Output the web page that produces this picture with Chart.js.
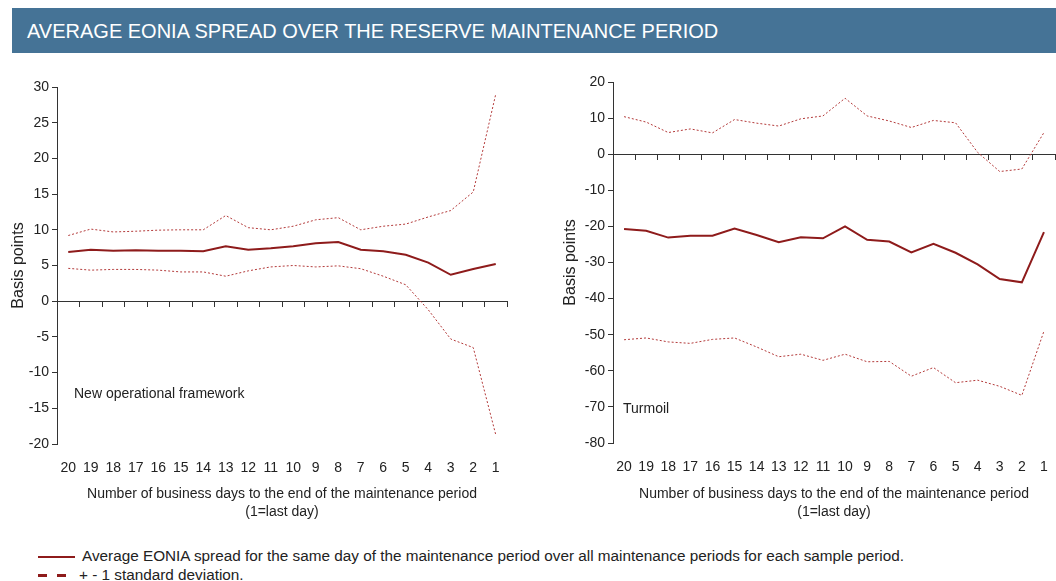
<!DOCTYPE html>
<html>
<head>
<meta charset="utf-8">
<script src="https://cdn.jsdelivr.net/npm/chart.js@4.4.1/dist/chart.umd.min.js"></script>
<style>
  body { margin: 0; width: 1056px; height: 581px; background: #fff; position: relative; overflow: hidden; font-family: "Liberation Sans", Arial, sans-serif; }
  #titre { position: absolute; left: 12px; top: 8px; width: 1044px; height: 45px; background: #457396; color: #fff; font-size: 20px; line-height: 46px; text-indent: 15px; }
  .boite { position: absolute; top: 0; height: 530px; }
  #gauche { left: 0; width: 530px; }
  #droite { left: 540px; width: 516px; }
  .legende { position: absolute; left: 38px; font-size: 15.3px; color: #222; white-space: nowrap; }
  .legende .trait { display: inline-block; width: 37px; height: 0; vertical-align: middle; margin-right: 7px; }
  .legende .tiret { display: inline-block; width: 9px; height: 0; border-top: 3px solid #8e1b1b; vertical-align: middle; margin-right: 10px; }
</style>
</head>
<body>
<div id="titre">AVERAGE EONIA SPREAD OVER THE RESERVE MAINTENANCE PERIOD</div>
<div class="boite" id="gauche"><canvas id="chartGauche"></canvas></div>
<div class="boite" id="droite"><canvas id="chartDroite"></canvas></div>
<div class="legende" style="top:547px"><span class="trait" style="border-top:2px solid #8e1b1b"></span>Average EONIA spread for the same day of the maintenance period over all maintenance periods for each sample period.</div>
<div class="legende" style="top:566px"><span class="tiret"></span><span class="tiret" style="margin-right:13px"></span>+ - 1 standard deviation.</div>
<script>
// jours ouvrés avant la fin de la période de réserve
const jours = ['20','19','18','17','16','15','14','13','12','11','10','9','8','7','6','5','4','3','2','1'];

// nouveau cadre opérationnel
const nofMoyenne = [6.9, 7.2, 7.05, 7.15, 7.05, 7.05, 7.0, 7.7, 7.2, 7.4, 7.7, 8.1, 8.3, 7.2, 7.0, 6.5, 5.4, 3.7, 4.5, 5.2];
const nofHaut    = [9.2, 10.1, 9.7, 9.8, 9.95, 10.0, 10.0, 12.0, 10.3, 10.0, 10.5, 11.4, 11.7, 10.0, 10.5, 10.8, 11.8, 12.7, 15.3, 29.0];
const nofBas     = [4.6, 4.35, 4.45, 4.45, 4.35, 4.1, 4.1, 3.5, 4.25, 4.8, 5.0, 4.8, 4.95, 4.55, 3.5, 2.3, -1.2, -5.3, -6.5, -18.7];

// turbulences
const turMoyenne = [-20.7, -21.2, -23.1, -22.6, -22.6, -20.6, -22.4, -24.4, -23.0, -23.3, -20.0, -23.7, -24.2, -27.2, -24.8, -27.3, -30.5, -34.6, -35.5, -21.6];
const turHaut    = [10.4, 8.9, 6.0, 7.0, 5.9, 9.6, 8.6, 7.8, 9.8, 10.6, 15.5, 10.6, 9.2, 7.4, 9.35, 8.7, 0.5, -4.8, -4.1, 6.0];
const turBas     = [-51.4, -50.9, -52.0, -52.4, -51.3, -50.9, -53.4, -56.1, -55.4, -57.1, -55.4, -57.5, -57.4, -61.5, -59.1, -63.3, -62.6, -64.3, -66.8, -49.0];

const rouge = '#8e1b1b';
const rougeClair = '#b33a3a';
const police = { family: '"Liberation Sans", Arial, sans-serif', size: 14 };
const couleurTexte = '#222';

// texte dans la zone du graphique
const pluginTexte = {
    id: 'texteZone',
    afterDraw(chart, args, opts) {
        const ctx = chart.ctx;
        const y = chart.scales.y.getPixelForValue(opts.valeur);
        ctx.save();
        ctx.font = '14px "Liberation Sans", Arial, sans-serif';
        ctx.fillStyle = couleurTexte;
        ctx.textBaseline = 'middle';
        ctx.fillText(opts.texte, chart.chartArea.left + opts.decalage, y);
        ctx.restore();
    }
};

function creerGraphique(id, moyenne, haut, bas, yMin, yMax, pas, cfg) {
    const ctx = document.getElementById(id).getContext('2d');
    return new Chart(ctx, {
        type: 'line',
        data: {
            labels: jours,
            datasets: [
                { data: moyenne, borderColor: rouge, borderWidth: 2, pointRadius: 0, tension: 0 },
                { data: haut, borderColor: rougeClair, borderWidth: 1, borderDash: [2, 2], pointRadius: 0, tension: 0 },
                { data: bas, borderColor: rougeClair, borderWidth: 1, borderDash: [2, 2], pointRadius: 0, tension: 0 }
            ]
        },
        options: {
            responsive: true,
            maintainAspectRatio: false,
            animation: false,
            layout: { padding: { left: cfg.padGauche, top: cfg.padHaut, right: cfg.padDroite, bottom: 0 } },
            plugins: {
                legend: { display: false },
                tooltip: { enabled: false },
                texteZone: { texte: cfg.texte, valeur: cfg.valeurTexte, decalage: cfg.decalageTexte }
            },
            scales: {
                x: {
                    type: 'category',
                    offset: true,
                    grid: { display: false },
                    border: { display: false },
                    ticks: { color: couleurTexte, font: police, maxRotation: 0, autoSkip: false, padding: 8 },
                    title: {
                        display: true,
                        text: ['Number of business days to the end of the maintenance period', '(1=last day)'],
                        color: couleurTexte,
                        font: { family: police.family, size: 14, lineHeight: '18px' },
                        padding: { top: 4, bottom: 9 }
                    },
                    afterFit(s) { s.height = 530 - cfg.basZone; }
                },
                x0: {
                    type: 'category',
                    position: { y: 0 },
                    offset: true,
                    grid: { offset: true, drawOnChartArea: false, tickLength: 5, color: '#333' },
                    border: { color: '#333' },
                    ticks: { display: false }
                },
                y: {
                    min: yMin,
                    max: yMax,
                    ticks: { stepSize: pas, color: couleurTexte, font: police, padding: 3 },
                    grid: { drawOnChartArea: false, tickLength: 5, color: '#333' },
                    border: { color: '#333' },
                    title: { display: true, text: 'Basis points', color: couleurTexte, font: { family: police.family, size: 16 }, padding: 0 },
                    afterFit(s) { s.width = cfg.axeY - cfg.padGauche; }
                }
            }
        },
        plugins: [pluginTexte]
    });
}

creerGraphique('chartGauche', nofMoyenne, nofHaut, nofBas, -20, 30, 5,
    { padGauche: 9, padHaut: 87, padDroite: 23, axeY: 57, basZone: 444, texte: 'New operational framework', valeurTexte: -13, decalageTexte: 17 });
creerGraphique('chartDroite', turMoyenne, turHaut, turBas, -80, 20, 10,
    { padGauche: 21, padHaut: 82, padDroite: 1, axeY: 73, basZone: 443, texte: 'Turmoil', valeurTexte: -70.5, decalageTexte: 10 });
</script>
</body>
</html>
